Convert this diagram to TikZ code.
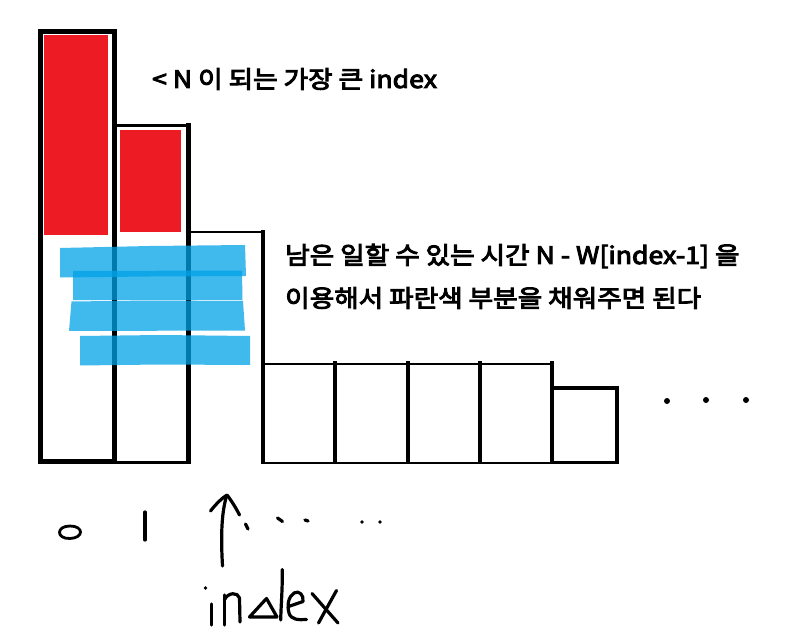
\documentclass[tikz,border=0pt]{standalone}
\usepackage{fontspec}
\newfontfamily\kr{Noto Sans CJK KR}[FakeBold=4,FakeStretch=1.11]
\definecolor{pred}{RGB}{237,28,36}
\definecolor{pblue}{RGB}{0,162,232}
\begin{document}
\begin{tikzpicture}[x=1pt,y=-1pt,
  bar/.style={line width=5pt},
  thin/.style={line width=2.5pt},
  mark4/.style={line width=4pt},
  redfill/.style={fill=pred},
  bluestroke/.style={fill=pblue,fill opacity=0.75},
  hand/.style={line width=3.2pt,line cap=round,line join=round},
  label/.style={font=\kr\fontsize{24}{28}\selectfont,anchor=west,inner sep=0pt}]
\useasboundingbox (0,0) rectangle (790,639);
\fill[white] (0,0) rectangle (790,639);
% red parts
\fill[redfill] (44,35) rectangle (108,235);
\fill[redfill] (120,130) rectangle (181,232);
% bars
\draw[bar] (40.5,31.5) rectangle (114.5,461.5);
\draw[thin] (114.5,125.5) -- (188.5,125.5);
\draw[bar] (188.5,123.5) -- (188.5,464);
\draw[thin] (114.5,462.5) -- (190,462.5);
\draw[thin] (188.5,232) -- (264,232);
\draw[mark4] (263,230.5) -- (263,464);
% small boxes
\draw[line width=2pt] (263,364) -- (552,364);
\draw[line width=2pt] (263,462.5) -- (553,462.5);
\foreach \x in {335,408,480,552} \draw[mark4] (\x,361) -- (\x,463.5);
\draw[mark4] (552,388) -- (616.5,388) -- (616.5,463.5);
\draw[line width=3pt] (552,462.5) -- (618,462.5);
% dots
\foreach \x/\y in {667/401,706/400,746/400} \fill (\x,\y) circle (3);
% blue strokes
\fill[bluestroke] (60,248) -- (150,246) -- (245,245) -- (246,276) -- (150,276.5) -- (60,277.5) -- cycle;
\fill[bluestroke] (73,271) -- (242,270.5) -- (242.5,300) -- (73,300) -- cycle;
\fill[bluestroke] (71.5,301.5) -- (150,300.5) -- (243,301) -- (245,330.5) -- (69,331) -- cycle;
\fill[bluestroke] (80,336) -- (160,335) -- (250,336) -- (250,365) -- (160,364.5) -- (80,365.5) -- cycle;
% texts
\node[label] (t1) at (152,79) {< N 이 되는 가장 큰 index};
\node[label] (t2) at (285,256) {남은 일할 수 있는 시간 N - W[index-1] 을};
\node[label] (t3) at (285,298) {이용해서 파란색 부분을 채워주면 된다};
% handwriting
\draw[hand,line width=2.8pt] (70,526) .. controls (84,526) and (84,538) .. (70,538.5) .. controls (56,539) and (56,526) .. (70,526);
\draw[hand] (145,512) -- (145,540);
\draw[hand] (222.5,566) .. controls (221,540) and (221,515) .. (226.5,496);
\draw[hand] (210.5,511) .. controls (216,504) and (222,498) .. (227,495) .. controls (231,500) and (236,508) .. (239.5,515);
\draw[hand] (245.5,524) -- (248,529);
\draw[hand] (277.5,518) -- (282.5,521.5);
\draw[hand] (305,520) -- (308,521);
\fill (362,522) circle (1.8);
\fill (380,522) circle (1.8);
\fill (205.5,588) circle (1.8);
\draw[hand] (211.5,604) -- (211.5,625);
\draw[hand] (224.3,625) -- (224.3,595);
\draw[hand] (224.3,600) .. controls (228,592) and (238,592) .. (239.5,598) -- (240,622);
\draw[hand] (277,617) -- (266.5,598.5) -- (249.5,617) -- (277,617);
\draw[hand] (282.3,569.5) .. controls (282.5,590) and (281,605) .. (280.7,620);
\draw[hand] (288.5,606.5) -- (303,601.5) .. controls (304,595) and (299,590) .. (294,593) .. controls (288,597) and (287,606) .. (289,613) .. controls (291,620) and (299,620) .. (306.5,619.5);
\draw[hand] (312,593.5) -- (338,623);
\draw[hand] (336.5,590.5) -- (318.5,623);
\end{tikzpicture}
\end{document}
